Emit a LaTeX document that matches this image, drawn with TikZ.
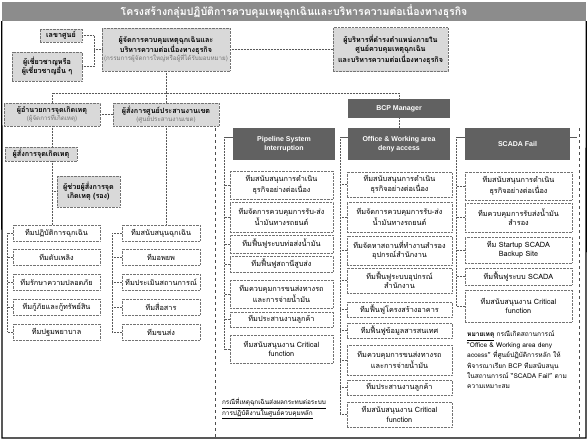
\documentclass[tikz,border=0pt]{standalone}
\usepackage{fontspec}
\setmainfont{Liberation Sans}
\newfontfamily\thai[Script=Thai]{Loma}
\begin{document}
\begin{tikzpicture}[x=1pt,y=-1pt,
  tbox/.style={draw=black!55, densely dotted, fill=black!15, align=center, inner sep=1pt,
    font=\thai\bfseries\fontsize{7.2}{9.2}\selectfont},
  team/.style={draw=black!55, densely dotted, fill=white, align=center, inner sep=1pt,
    font=\thai\fontsize{7.3}{9.2}\selectfont},
  hdr/.style={fill=black!62, text=white, align=center, inner sep=1pt,
    font=\bfseries\fontsize{7}{9}\selectfont},
  link/.style={densely dotted, black!65, line width=0.5pt},
  sep/.style={black!70, line width=0.8pt, dash pattern=on 2.5pt off 3.5pt}
]
\useasboundingbox (0,0) rectangle (588,440);
\fill[white] (0,0) rectangle (588,440);
% title band and frame
\node[fill=black!45, minimum width=584pt, minimum height=19pt, inner sep=0pt, text=white,
  font=\thai\bfseries\fontsize{10.5}{11}\selectfont] (title) at (294,11.5)
  {โครงสร้างกลุ่มปฏิบัติการควบคุมเหตุฉุกเฉินและบริหารความต่อเนื่องทางธุรกิจ};
\draw[line width=1.3pt] (title.south west) -- (2,438) -- (586,438) -- (title.south east);

% top level
\node[tbox, minimum width=42pt, minimum height=13pt] (sec) at (61,35.5) {เลขาศูนย์};
\node[tbox, minimum width=70pt, minimum height=29pt] (exp) at (47,66.5) {ผู้เชี่ยวชาญหรือ\\ผู้เชี่ยวชาญอื่น ๆ};
\node[tbox, minimum width=128pt, minimum height=43pt] (dir) at (166,49.5)
  {ผู้จัดการควบคุมเหตุฉุกเฉินและ\\บริหารความต่อเนื่องทางธุรกิจ\\[-1pt]{\color{black!55}\mdseries\fontsize{6.2}{7.5}\selectfont(กรรมการผู้จัดการใหญ่หรือผู้ที่ได้รับมอบหมาย)}};
\node[tbox, minimum width=115pt, minimum height=44pt] (mgr) at (390.5,49.5)
  {ผู้บริหารที่ดำรงตำแหน่งภายใน\\ศูนย์ควบคุมเหตุฉุกเฉิน\\และบริหารความต่อเนื่องทางธุรกิจ};
\node[hdr, minimum width=102pt, minimum height=19pt] (bcp) at (399,108.5) {BCP Manager};
\node[tbox, minimum width=96pt, minimum height=23pt] (inc) at (52,114.5)
  {ผู้อำนวยการจุดเกิดเหตุ\\[-1pt]{\color{black!55}\mdseries\fontsize{6.2}{7.5}\selectfont(ผู้จัดการที่เกิดเหตุ)}};
\node[tbox, minimum width=106pt, minimum height=23pt] (zone) at (166,114.5)
  {ผู้สั่งการศูนย์ประสานงานเขต\\[-1pt]{\color{black!55}\mdseries\fontsize{6.2}{7.5}\selectfont(ศูนย์ประสานงานเขต)}};
\node[tbox, minimum width=72pt, minimum height=14pt] (cmd) at (41,154) {ผู้สั่งการจุดเกิดเหตุ};
\node[tbox, minimum width=63pt, minimum height=31pt] (asst) at (88.5,191.5) {ผู้ช่วยผู้สั่งการจุด\\เกิดเหตุ (รอง)};

% left team columns
\node[team, minimum width=87pt, minimum height=16pt] (a1) at (56.5,233) {ทีมปฏิบัติการฉุกเฉิน};
\node[team, minimum width=87pt, minimum height=16pt] (a2) at (56.5,257) {ทีมดับเพลิง};
\node[team, minimum width=87pt, minimum height=16pt] (a3) at (56.5,282) {ทีมรักษาความปลอดภัย};
\node[team, minimum width=87pt, minimum height=16pt] (a4) at (56.5,307) {ทีมกู้ภัยและกู้ทรัพย์สิน};
\node[team, minimum width=87pt, minimum height=16pt] (a5) at (56.5,332) {ทีมปฐมพยาบาล};
\node[team, minimum width=78pt, minimum height=16pt] (b1) at (161,233) {ทีมสนับสนุนฉุกเฉิน};
\node[team, minimum width=78pt, minimum height=16pt] (b2) at (161,257) {ทีมอพยพ};
\node[team, minimum width=78pt, minimum height=16pt] (b3) at (161,282) {ทีมประเมินสถานการณ์};
\node[team, minimum width=78pt, minimum height=16pt] (b4) at (161,307) {ทีมสื่อสาร};
\node[team, minimum width=78pt, minimum height=16pt] (b5) at (161,332) {ทีมขนส่ง};

% headers
\node[hdr, minimum width=102pt, minimum height=32pt] (hp) at (284,144) {Pipeline System\\Interruption};
\node[hdr, minimum width=102pt, minimum height=32pt] (ho) at (399,144) {Office \& Working area\\deny access};
\node[hdr, minimum width=105pt, minimum height=32pt] (hs) at (517.5,144) {SCADA Fail};

% pipeline column
\node[team, minimum width=103pt, minimum height=28pt] (p1) at (281.5,185) {ทีมสนับสนุนการดำเนิน\\ธุรกิจอย่างต่อเนื่อง};
\node[team, minimum width=103pt, minimum height=30pt] (p2) at (281.5,217) {ทีมจัดการควบคุมการรับ-ส่ง\\น้ำมันทางรถยนต์};
\node[team, minimum width=103pt, minimum height=18pt] (p3) at (281.5,244) {ทีมฟื้นฟูระบบท่อส่งน้ำมัน};
\node[team, minimum width=103pt, minimum height=16pt] (p4) at (281.5,264) {ทีมฟื้นฟูสถานีสูบส่ง};
\node[team, minimum width=103pt, minimum height=28pt] (p5) at (281.5,294) {ทีมควบคุมการขนส่งทางรถ\\และการจ่ายน้ำมัน};
\node[team, minimum width=103pt, minimum height=15pt] (p6) at (281.5,319.5) {ทีมประสานงานลูกค้า};
\node[team, minimum width=103pt, minimum height=28pt] (p7) at (281.5,349) {ทีมสนับสนุนงาน Critical\\function};
\node[align=left, inner sep=0pt, font=\thai\fontsize{6.4}{9}\selectfont] (pnote) at (274,408.5)
  {\underline{กรณีที่เหตุฉุกเฉินส่งผลกระทบต่อระบบ}\\\underline{การปฏิบัติงานในศูนย์ควบคุมหลัก}};

% office column
\node[team, minimum width=105pt, minimum height=25pt] (o1) at (399.5,184.5) {ทีมสนับสนุนการดำเนิน\\ธุรกิจอย่างต่อเนื่อง};
\node[team, minimum width=105pt, minimum height=30pt] (o2) at (399.5,217) {ทีมจัดการควบคุมการรับ-ส่ง\\น้ำมันทางรถยนต์};
\node[team, minimum width=105pt, minimum height=29pt] (o3) at (399.5,250.5) {ทีมจัดหาสถานที่ทำงานสำรอง\\อุปกรณ์สำนักงาน};
\node[team, minimum width=105pt, minimum height=25pt] (o4) at (399.5,280.5) {ทีมฟื้นฟูระบบอุปกรณ์\\สำนักงาน};
\node[team, minimum width=105pt, minimum height=15pt] (o5) at (399.5,309.5) {ทีมฟื้นฟูโครงสร้างอาคาร};
\node[team, minimum width=105pt, minimum height=15pt] (o6) at (399.5,330.5) {ทีมฟื้นฟูข้อมูลสารสนเทศ};
\node[team, minimum width=105pt, minimum height=30pt] (o7) at (399.5,360) {ทีมควบคุมการขนส่งทางรถ\\และการจ่ายน้ำมัน};
\node[team, minimum width=105pt, minimum height=15pt] (o8) at (399.5,387.5) {ทีมประสานงานลูกค้า};
\node[team, minimum width=105pt, minimum height=25pt] (o9) at (399.5,414.5) {ทีมสนับสนุนงาน Critical\\function};

% scada column
\node[team, minimum width=107pt, minimum height=28pt] (s1) at (518.5,186) {ทีมสนับสนุนการดำเนิน\\ธุรกิจอย่างต่อเนื่อง};
\node[team, minimum width=107pt, minimum height=29pt] (s2) at (518.5,217.5) {ทีมควบคุมการรับส่งน้ำมัน\\สำรอง};
\node[team, minimum width=107pt, minimum height=26pt] (s3) at (518.5,250) {ทีม Startup SCADA\\Backup Site};
\node[team, minimum width=107pt, minimum height=17pt] (s4) at (518.5,276.5) {ทีมฟื้นฟูระบบ SCADA};
\node[team, minimum width=107pt, minimum height=32pt] (s5) at (518.5,306) {ทีมสนับสนุนงาน Critical\\function};
\node[align=left, inner sep=0pt, anchor=north west, font=\thai\fontsize{6.6}{10.4}\selectfont] (snote) at (467,331)
  {\textbf{\underline{หมายเหตุ}} กรณีเกิดสถานการณ์\\“Office \& Working area deny\\access” ที่ศูนย์ปฏิบัติการหลัก ให้\\พิจารณาเรียก BCP ทีมสนับสนุน\\ในสถานการณ์ “SCADA Fail” ตาม\\ความเหมาะสม};

% bus coordinates
\coordinate (jL) at (94,49.5);
\coordinate (bl) at (52,93);
\coordinate (bm) at (166,93);
\coordinate (br) at (399,93);
\coordinate (busA) at (7,0);
\coordinate (busB) at (112,0);
\coordinate (busP) at (224,0);
\coordinate (busO) at (340,0);
\coordinate (busS) at (456,0);
\coordinate (hy) at (0,137);

% connectors
\draw[link] (sec.east) -| (jL);
\draw[link] (exp.east) -| (jL);
\draw[link] (jL) -- (dir.west);
\draw[link] (dir.east) -- (mgr.west);
\draw[link] (dir.south) -- (bm);
\draw[link] (inc.north) -- (bl) -- (br) -- (bcp.north);
\draw[link] (bm) -- (zone.north);
\draw[link] (bcp.south) -- (ho.north);
\draw[link] (inc.east) -- (zone.west);
\draw[link] (inc.south) -- (inc.south |- cmd.north);
\draw[link] (inc.south |- cmd.south) -- (inc.south |- a1.north);
\draw[link] (inc.south |- asst.west) -- (asst.west);
\draw[link] (zone.south) -- (zone.south |- b1.north);
\draw[link] (a1.west -| busA) -- (a5.west -| busA);
\draw[link] (b1.west -| busB) -- (b5.west -| busB);
\foreach \n in {a1,a2,a3,a4,a5} \draw[link] (\n.west) -- (\n.west -| busA);
\foreach \n in {b1,b2,b3,b4,b5} \draw[link] (\n.west) -- (\n.west -| busB);
\draw[link] (hy -| busP) -- (p7.west -| busP);
\draw[link] (hy -| busO) -- (o9.west -| busO);
\draw[link] (hy -| busS) -- (s5.west -| busS);
\draw[link, solid] (hy -| busP) -- (hy -| hp.west);
\draw[link, solid] (hy -| busO) -- (hy -| ho.west);
\draw[link, solid] (hy -| busS) -- (hy -| hs.west);
\draw[link, solid] (hy -| hs.east) -- ++(7,0);
\foreach \n in {p1,p2,p3,p4,p5,p6,p7} \draw[link] (\n.west) -- (\n.west -| busP);
\foreach \n in {o1,o2,o3,o4,o5,o6,o7,o8,o9} \draw[link] (\n.west) -- (\n.west -| busO);
\foreach \n in {s1,s2,s3,s4,s5} \draw[link] (\n.west) -- (\n.west -| busS);

% separators
\draw[sep] (215,128) -- (215,437);
\draw[sep] (579,128) -- (579,437);
\end{tikzpicture}
\end{document}
